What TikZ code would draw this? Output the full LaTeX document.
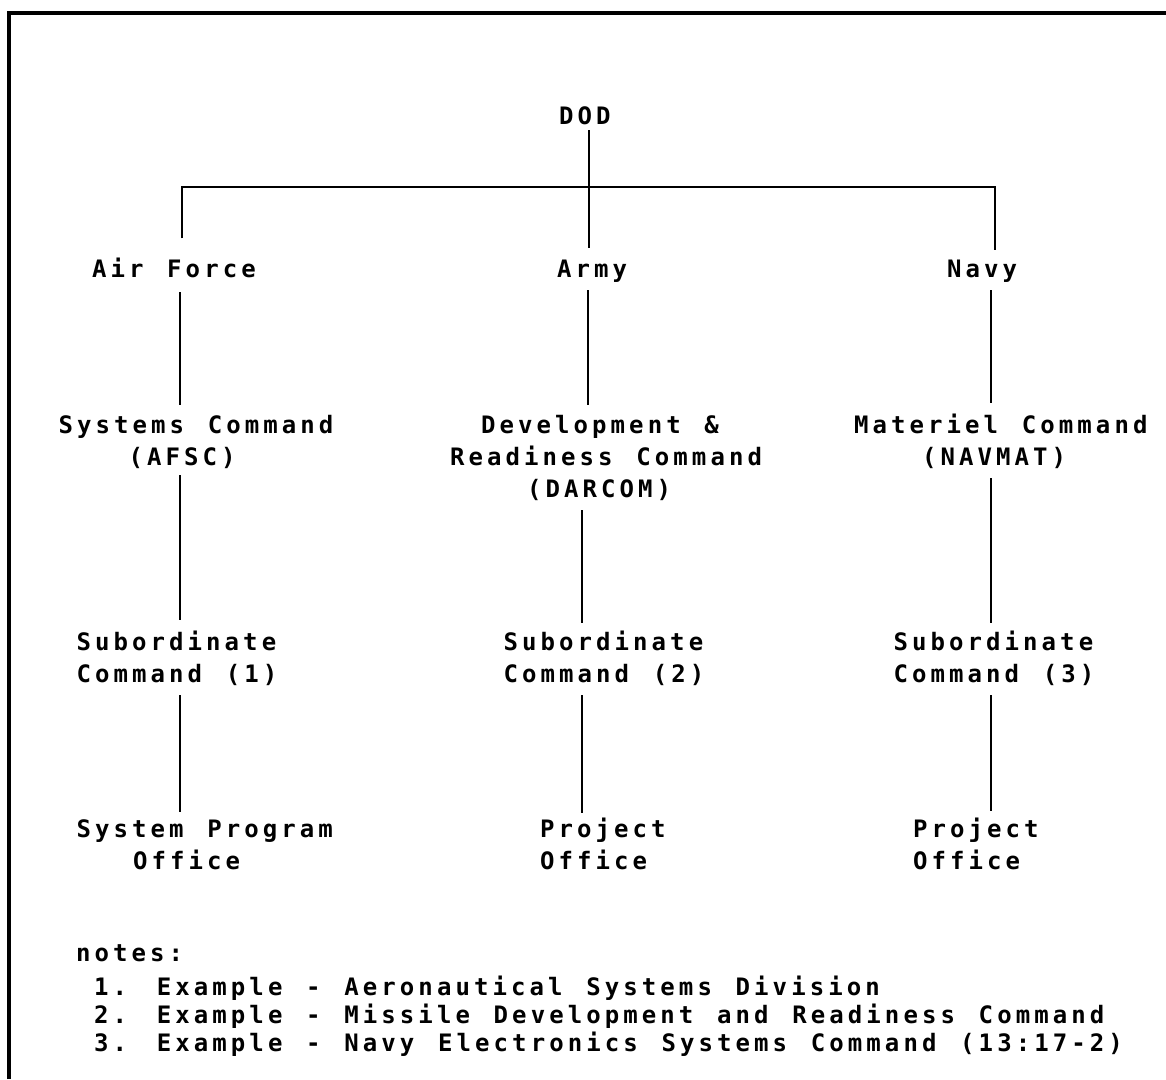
\documentclass[tikz,border=0pt]{standalone}
\usepackage{fontspec}
\newfontfamily\dm{DejaVu Sans Mono}[LetterSpace=17,WordSpace=1.28]
\usetikzlibrary{calc}
\begin{document}
\begin{tikzpicture}[x=1pt,y=-1pt,
  lbl/.style={inner sep=0pt, outer sep=0pt, anchor=base west, align=left,
    font=\dm\bfseries\fontsize{24}{32}\selectfont},
  conn/.style={line width=2.8pt},
  frame/.style={line width=4.5pt}]
\useasboundingbox (0,0) rectangle (1166,1079);
% frame (cut off at right and bottom)
\draw[frame] (9,1079) -- (9,13) -- (1166,13);

% nodes (base = baseline of the last line)
\node[lbl] (dod)  at (559,124) {DOD};
\node[lbl] (af)   at (92,277)  {Air Force};
\node[lbl] (army) at (557,277) {Army};
\node[lbl] (navy) at (947,277) {Navy};
\node[lbl] (afsc) at (58.5,465) {Systems Command\\\hspace*{70pt}(AFSC)};
\node[lbl] (dar)  at (450,497) {\hspace*{31pt}Development \&\\Readiness Command\\\hspace*{77pt}(DARCOM)};
\node[lbl] (nav)  at (854,465) {Materiel Command\\\hspace*{68pt}(NAVMAT)};
\node[lbl] (sub1) at (76.5,682) {Subordinate\\Command (1)};
\node[lbl] (sub2) at (503.5,682) {Subordinate\\Command (2)};
\node[lbl] (sub3) at (893.5,682) {Subordinate\\Command (3)};
\node[lbl] (spo)  at (76.5,869) {System Program\\\hspace*{56.5pt}Office};
\node[lbl] (po2)  at (540,869) {Project\\Office};
\node[lbl] (po3)  at (913,869) {Project\\Office};
\node[lbl, font=\dm\bfseries\fontsize{24}{28}\selectfont] (notes) at (76,1051)
  {notes:\\[6pt]
   \hspace*{18pt}1. Example - Aeronautical Systems Division\\
   \hspace*{18pt}2. Example - Missile Development and Readiness Command\\
   \hspace*{18pt}3. Example - Navy Electronics Systems Command (13:17-2)};

% connector coordinates
\coordinate (barL) at (182,187);
\coordinate (barM) at (589,187);
\coordinate (barR) at (995,187);
\coordinate (colA) at (180,0);
\coordinate (colB) at (588,0);
\coordinate (colB2) at (582,0);
\coordinate (colC) at (991,0);

% DOD to services
\draw[conn] ($(dod.base -| barM)+(0,6)$) -- ($(army.north -| barM)+(0,-12)$);
\draw[conn] ($(af.north -| barL)+(0,-19)$) -- (barL) -- (barR) -- ($(navy.north -| barR)+(0,-10)$);

% Air Force column
\draw[conn] ($(af.base -| colA)+(0,15)$) -- ($(afsc.north -| colA)+(0,-10)$);
\draw[conn] ($(afsc.south -| colA)+(0,7)$) -- ($(sub1.north -| colA)+(0,-10)$);
\draw[conn] ($(sub1.south -| colA)+(0,10)$) -- ($(spo.north -| colA)+(0,-7)$);

% Army column
\draw[conn] ($(army.base -| colB)+(0,13)$) -- ($(dar.north -| colB)+(0,-10)$);
\draw[conn] ($(dar.south -| colB2)+(0,10)$) -- ($(sub2.north -| colB2)+(0,-7)$);
\draw[conn] ($(sub2.south -| colB2)+(0,10)$) -- ($(po2.north -| colB2)+(0,-5)$);

% Navy column
\draw[conn] ($(navy.base -| colC)+(0,13)$) -- ($(nav.north -| colC)+(0,-10)$);
\draw[conn] ($(nav.south -| colC)+(0,10)$) -- ($(sub3.north -| colC)+(0,-7)$);
\draw[conn] ($(sub3.south -| colC)+(0,10)$) -- ($(po3.north -| colC)+(0,-7)$);
\end{tikzpicture}
\end{document}
